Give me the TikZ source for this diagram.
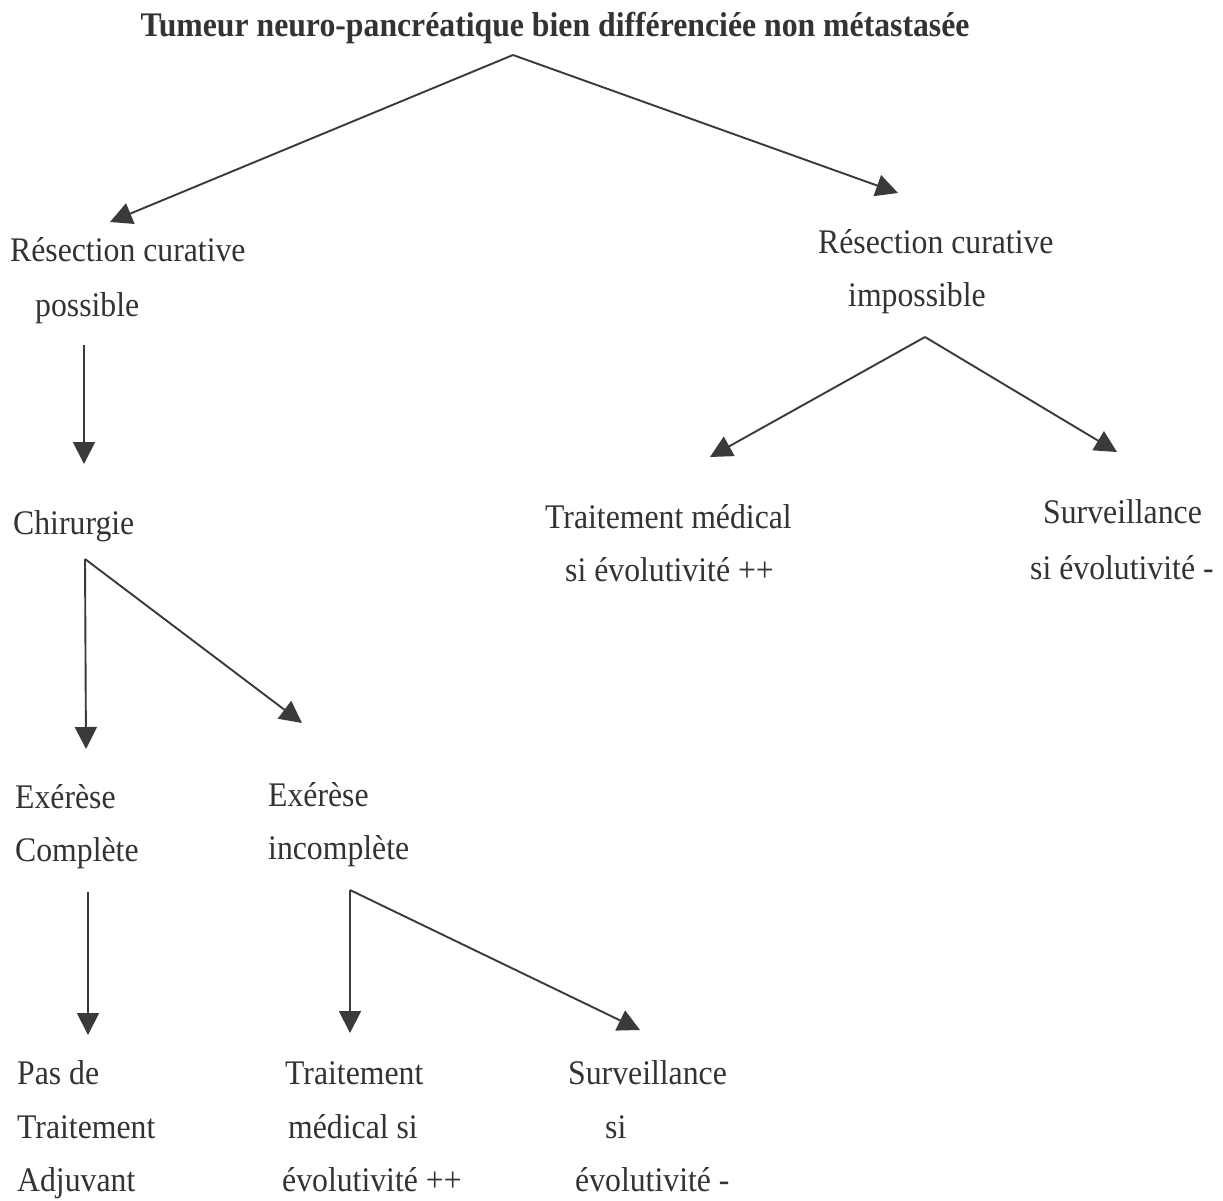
\documentclass[tikz,border=0pt]{standalone}
\usepackage{fontspec}
\setmainfont[FakeStretch=0.92]{Liberation Serif}
\usetikzlibrary{arrows.meta}
\definecolor{ink}{HTML}{333333}
\definecolor{arrowink}{HTML}{3A3A3A}
\tikzset{
  lbl/.style={anchor=base west, inner sep=0pt, text=ink,
    font=\fontsize{34.5}{40}\selectfont},
  ttl/.style={anchor=base, inner sep=0pt, text=ink,
    font=\fontsize{34.5}{40}\selectfont\bfseries},
  flow/.style={draw=arrowink, line width=1.9pt,
    -{Triangle[length=22pt,width=22pt]}}
}
\begin{document}
\begin{tikzpicture}[x=1pt,y=-1pt]
\useasboundingbox[fill=white] (0,0) rectangle (1223,1200);

% title
\node[ttl] (title) at (555,36) {Tumeur neuro-pancréatique bien différenciée non métastasée};

% first level
\node[lbl] (resL1) at (10,261) {Résection curative};
\node[lbl] (resL2) at (35,316) {possible};
\node[lbl] (resR1) at (818,253) {Résection curative};
\node[lbl] (resR2) at (848,306) {impossible};

% left branch
\node[lbl] (chir) at (13,534) {Chirurgie};
\node[lbl] (exC1) at (15,808) {Exérèse};
\node[lbl] (exC2) at (15,861) {Complète};
\node[lbl] (exI1) at (268,806) {Exérèse};
\node[lbl] (exI2) at (268,859) {incomplète};

\node[lbl] (pas1) at (17,1084) {Pas de};
\node[lbl] (pas2) at (17,1138) {Traitement};
\node[lbl] (pas3) at (17,1191) {Adjuvant};
\node[lbl] (tm1) at (285,1084) {Traitement};
\node[lbl] (tm2) at (288,1138) {médical si};
\node[lbl] (tm3) at (282,1191) {évolutivité ++};
\node[lbl] (sv1) at (568,1084) {Surveillance};
\node[lbl] (sv2) at (605,1138) {si};
\node[lbl] (sv3) at (575,1191) {évolutivité -};

% right branch
\node[lbl] (tmR1) at (545,528) {Traitement médical};
\node[lbl] (tmR2) at (565,581) {si évolutivité ++};
\node[lbl] (svR1) at (1043,523) {Surveillance};
\node[lbl] (svR2) at (1030,579) {si évolutivité -};

% connector end points
\coordinate (topApex) at (513,55);
\coordinate (toResL) at (110,222);
\coordinate (toResR) at (898,193);
\coordinate (fromResL) at (84,345);
\coordinate (toChir) at (84,464);
\coordinate (impApex) at (925,337);
\coordinate (toTmR) at (710,457);
\coordinate (toSvR) at (1117,452);
\coordinate (chirApex) at (85,559);
\coordinate (toExC) at (86,749);
\coordinate (toExI) at (302,723);
\coordinate (fromExC) at (88,892);
\coordinate (toPas) at (88,1035);
\coordinate (exIApex) at (350,890);
\coordinate (toTm) at (350,1033);
\coordinate (toSv) at (640,1030);

% connectors
\draw[flow] (topApex) -- (toResL);
\draw[flow] (topApex) -- (toResR);
\draw[flow] (fromResL) -- (toChir);
\draw[flow] (impApex) -- (toTmR);
\draw[flow] (impApex) -- (toSvR);
\draw[flow] (chirApex) -- (toExC);
\draw[flow] (chirApex) -- (toExI);
\draw[flow] (fromExC) -- (toPas);
\draw[flow] (exIApex) -- (toTm);
\draw[flow] (exIApex) -- (toSv);
\end{tikzpicture}
\end{document}
